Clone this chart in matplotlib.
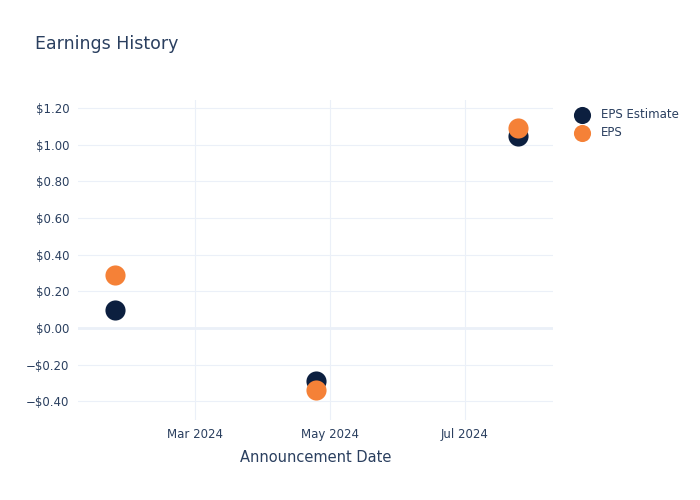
import numpy as np
import matplotlib.pyplot as plt
import matplotlib.dates as mdates
from matplotlib.ticker import FuncFormatter

dates = np.array(['2024-01-25', '2024-04-25', '2024-07-25'], dtype='datetime64[D]')
eps_estimate = [0.10, -0.29, 1.05]
eps_actual = [0.29, -0.34, 1.09]

txt = '#2a3f5f'
grid = '#ebf0f8'

fig = plt.figure(figsize=(7, 5), dpi=100)
ax = fig.add_axes([0.111, 0.16, 0.679, 0.64])

ax.scatter(dates, eps_estimate, s=210, color='#0c1f3f', label='EPS Estimate', zorder=3, linewidths=0)
ax.scatter(dates, eps_actual, s=210, color='#f58137', label='EPS', zorder=4, linewidths=0)

ax.set_xlim(np.datetime64('2024-01-08'), np.datetime64('2024-08-10'))
ax.set_ylim(-0.502, 1.244)
ax.set_yticks(np.arange(-0.4, 1.21, 0.2))
ax.xaxis.set_major_locator(mdates.MonthLocator(bymonth=[3, 5, 7]))
ax.xaxis.set_major_formatter(mdates.DateFormatter('%b %Y'))

def money(v, pos):
    if abs(v) < 1e-9:
        return '$0.00'
    return ('\u2212$%.2f' % -v) if v < 0 else ('$%.2f' % v)
ax.yaxis.set_major_formatter(FuncFormatter(money))

ax.grid(True, color=grid, linewidth=0.8)
ax.axhline(0, color=grid, linewidth=2, zorder=1)
ax.set_axisbelow(True)
for s in ax.spines.values():
    s.set_visible(False)
ax.tick_params(length=0, labelsize=8.5, labelcolor=txt, pad=6)

ax.set_xlabel('Announcement Date', fontsize=10.5, color=txt, labelpad=6)
fig.text(0.05, 0.912, 'Earnings History', fontsize=12.5, color=txt, va='center')

fig.legend(loc='upper left', bbox_to_anchor=(0.8, 0.805), frameon=False, fontsize=8.5,
           labelcolor=txt, markerscale=0.85, handletextpad=0.6, labelspacing=0.45)

fig.savefig('out.png', dpi=100)
